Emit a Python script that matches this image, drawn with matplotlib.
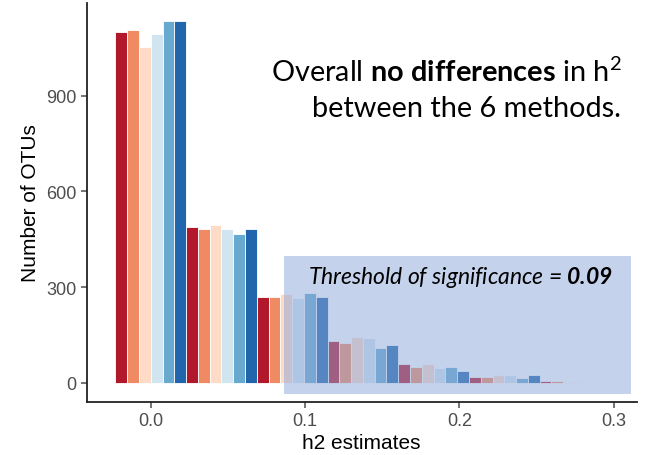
import numpy as np
import matplotlib
matplotlib.use("Agg")
import matplotlib.pyplot as plt
from matplotlib.patches import Rectangle

# h2 bin centres and counts per method (6 methods)
bin_centers = [0.0, 0.0458, 0.0917, 0.1375, 0.1833, 0.2292, 0.275]
counts = [
    [1098, 487, 269, 132, 60, 20, 6],
    [1106, 483, 269, 126, 51, 20, 6],
    [1052, 496, 279, 144, 60, 24, 4],
    [1093, 483, 265, 140, 47, 24, 4],
    [1133, 466, 283, 110, 51, 15, 0],
    [1133, 483, 269, 118, 38, 24, 0],
]
colors = ["#B2182B", "#EF8A62", "#FDDBC7", "#D1E5F0", "#67A9CF", "#2166AC"]
yticks = [0, 300, 600, 900]
xticks = [0.0, 0.1, 0.2, 0.3]

plt.rcParams["mathtext.fontset"] = "custom"
plt.rcParams["mathtext.rm"] = "Lato"
plt.rcParams["mathtext.bf"] = "Lato:bold"
plt.rcParams["mathtext.it"] = "Lato:italic"
plt.rcParams["mathtext.bfit"] = "Lato:italic:bold"

W, H = 646, 456
fig = plt.figure(figsize=(W / 100, H / 100), dpi=100)
ax = fig.add_axes([86.7 / W, (H - 402.7) / H, 550 / W, 398.7 / H])

binw = bin_centers[1] - bin_centers[0]
bw = binw / 6
centers = np.array(bin_centers)
for i, (vals, c) in enumerate(zip(counts, colors)):
    ax.bar(centers + (i - 2.5) * bw, vals, width=bw, color=c,
           edgecolor="white", linewidth=0.6)

ax.set_xlim(-0.0415, 0.315)
ax.set_ylim(-58.6, 1190)
ax.set_xticks(xticks)
ax.set_xticklabels([f"{t:.1f}" for t in xticks])
ax.set_yticks(yticks)
for s in ["top", "right"]:
    ax.spines[s].set_visible(False)
for s in ["left", "bottom"]:
    ax.spines[s].set_linewidth(1.3)
    ax.spines[s].set_color("#222222")
ax.tick_params(colors="#4D4D4D", labelsize=13, length=4, width=1.1)
ax.set_xlabel("h2 estimates", fontsize=15, family="Liberation Sans", labelpad=3)
ax.set_ylabel("Number of OTUs", fontsize=15, family="Liberation Sans", labelpad=4)
for lab in ax.get_xticklabels() + ax.get_yticklabels():
    lab.set_family("Liberation Sans")

# translucent threshold box (overlay)
fig.add_artist(Rectangle((284 / W, (H - 395) / H), (630.7 - 284) / W, (395 - 257.3) / H,
                         transform=fig.transFigure, facecolor=(0.55, 0.655, 0.85),
                         alpha=0.5, edgecolor="none", zorder=2))
fig.text(307.5 / W, (H - 284.3) / H, r"Threshold of significance = $\mathbfit{0.09}$",
         family="Lato", style="italic", fontsize=16.5, ha="left", va="baseline", zorder=3)

fig.text(622 / W, (H - 82) / H, r"Overall $\mathbf{no\ differences}$ in h$^2$",
         family="Lato", fontsize=20.8, ha="right", va="baseline", zorder=3)
fig.text(621 / W, (H - 116.7) / H, "between the 6 methods.",
         family="Lato", fontsize=20.8, ha="right", va="baseline", zorder=3)

fig.savefig("out.png", dpi=100)
